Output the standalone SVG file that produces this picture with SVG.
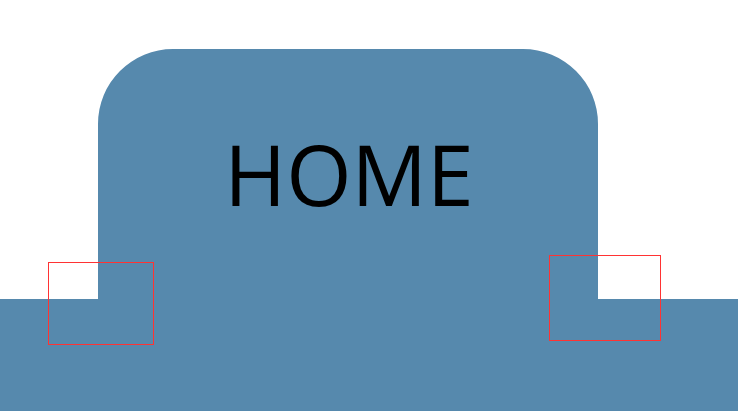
<svg xmlns="http://www.w3.org/2000/svg" width="738" height="411" viewBox="0 0 738 411">
<style>
.shape{fill:#5689ad}
.mark{fill:none;stroke:#ff3333;stroke-width:1}
.label{font-family:"Open Sans","Noto Sans","DejaVu Sans",sans-serif;font-size:84px;fill:#000}
</style>
<g id="home">
<path class="shape" d="M0,299 H98 V124 A75,75 0 0 1 173,49 H523 A75,75 0 0 1 598,124 V299 H738 V411 H0 Z"/>
<text class="label" x="349" y="206" text-anchor="middle">HOME</text>
</g>
<g id="markers">
<rect class="mark" x="48.5" y="262.5" width="105" height="82"/>
<rect class="mark" x="549.5" y="255.5" width="111" height="85"/>
</g>
</svg>
